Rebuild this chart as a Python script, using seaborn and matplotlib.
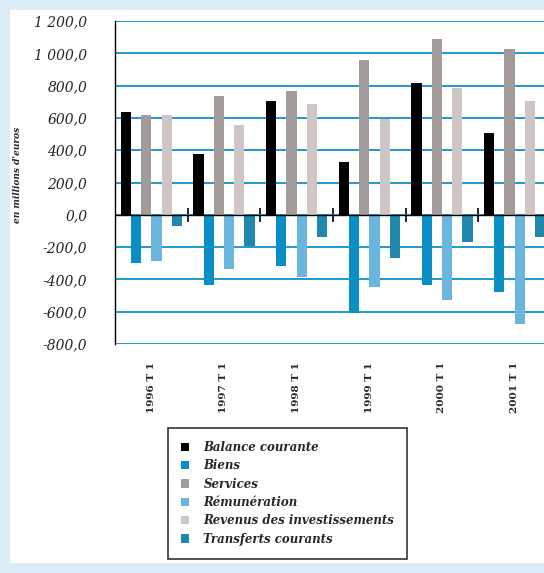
import numpy as np
import pandas as pd
import matplotlib
matplotlib.use("Agg")
import matplotlib.pyplot as plt
import seaborn as sns
from matplotlib.patches import Rectangle
from matplotlib.ticker import FuncFormatter

# Quarterly current-account components, in millions of euros
periods = ["1996 T 1", "1997 T 1", "1998 T 1", "1999 T 1", "2000 T 1", "2001 T 1"]
balance_courante = [636, 376, 702, 326, 815, 506]
biens = [-299, -433, -316, -605, -433, -481]
services = [619, 733, 766, 960, 1090, 1026]
remuneration = [-285, -334, -386, -448, -526, -675]
revenus_invest = [620, 553, 683, 592, 784, 702]
transferts = [-72, -196, -140, -270, -171, -138]

series_names = ["Balance courante", "Biens", "Services", "Rémunération",
                "Revenus des investissements", "Transferts courants"]
series_values = [balance_courante, biens, services, remuneration,
                 revenus_invest, transferts]
colors = ["#000000", "#0a8ec4", "#a39b99", "#6ab6de", "#cdc6c4", "#2187ad"]

df = pd.DataFrame(
    [(p, name, v) for name, vals in zip(series_names, series_values)
     for p, v in zip(periods, vals)],
    columns=["period", "series", "value"],
)

sns.set_theme(style="white")
plt.rcParams["font.family"] = ["DejaVu Serif"]

W, H = 544, 573
fig = plt.figure(figsize=(W / 100, H / 100), dpi=100)
fig.patch.set_facecolor("#dcedf7")
# white inner panel
fig.add_artist(Rectangle((10 / W, 10 / H), 1, 1 - 20 / H, transform=fig.transFigure,
                         facecolor="white", edgecolor="none", zorder=0))

ymin, ymax = -800, 1200
ax = fig.add_axes([115 / W, 1 - 344 / H, (551 - 115) / W, (344 - 21) / H])
ax.set_facecolor("none")

sns.barplot(data=df, x="period", y="value", hue="series", hue_order=series_names,
            order=periods, palette=colors, saturation=1, width=0.84,
            errorbar=None, linewidth=0, ax=ax, zorder=3)

ax.set_ylim(ymin, ymax)
ax.set_xlim(-0.5, len(periods) - 0.5)
ax.set_yticks(np.arange(ymin, ymax + 1, 200))
ax.yaxis.set_major_formatter(
    FuncFormatter(lambda v, _: f"{v:,.1f}".replace(",", " ").replace(".", ",")))
ax.yaxis.grid(True, color="#1d9ad3", linewidth=1.4, zorder=1)
ax.set_axisbelow(True)

for side in ("top", "right", "bottom"):
    ax.spines[side].set_visible(False)
ax.spines["left"].set_color("black")
ax.spines["left"].set_linewidth(1.0)

ax.tick_params(axis="y", direction="out", length=8, width=1, color="black",
               pad=12, labelsize=10)
for lab in ax.get_yticklabels():
    lab.set_fontstyle("italic")

ax.set_xticks(range(len(periods)))
ax.set_xticklabels(periods, rotation=90, fontsize=7.5, fontweight="bold", va="top")
ax.tick_params(axis="x", length=0, pad=13)
ax.set_xlabel("")
ax.set_ylabel("")

# category axis crossing at zero with boundary ticks
ax.axhline(0, color="black", linewidth=1.0, zorder=4)
zero_pos = (0 - ymin) / (ymax - ymin)
sec = ax.secondary_xaxis(zero_pos)
sec.set_xticks(np.arange(len(periods) - 1) + 0.5)
sec.set_xticklabels([])
sec.tick_params(direction="inout", length=10, width=1.2, color="black")
sec.spines["bottom"].set_visible(False)

fig.text(18 / W, 1 - 175 / H, "en millions d'euros", rotation=90, ha="center",
         va="center", fontsize=6.5, fontstyle="italic", fontweight="bold")

handles, labels = ax.get_legend_handles_labels()
ax.get_legend().remove()
leg = fig.legend(handles, labels, loc="upper left", bbox_to_anchor=(168 / W, 1 - 428 / H),
                 frameon=True, fancybox=False, edgecolor="black",
                 prop={"size": 8.5, "style": "italic", "weight": "bold"},
                 handlelength=0.7, handleheight=0.7, handletextpad=1.2,
                 labelspacing=0.45, borderpad=1.1, borderaxespad=0)
leg.get_frame().set_linewidth(1.2)

fig.savefig("out.png", dpi=100, facecolor=fig.get_facecolor())
